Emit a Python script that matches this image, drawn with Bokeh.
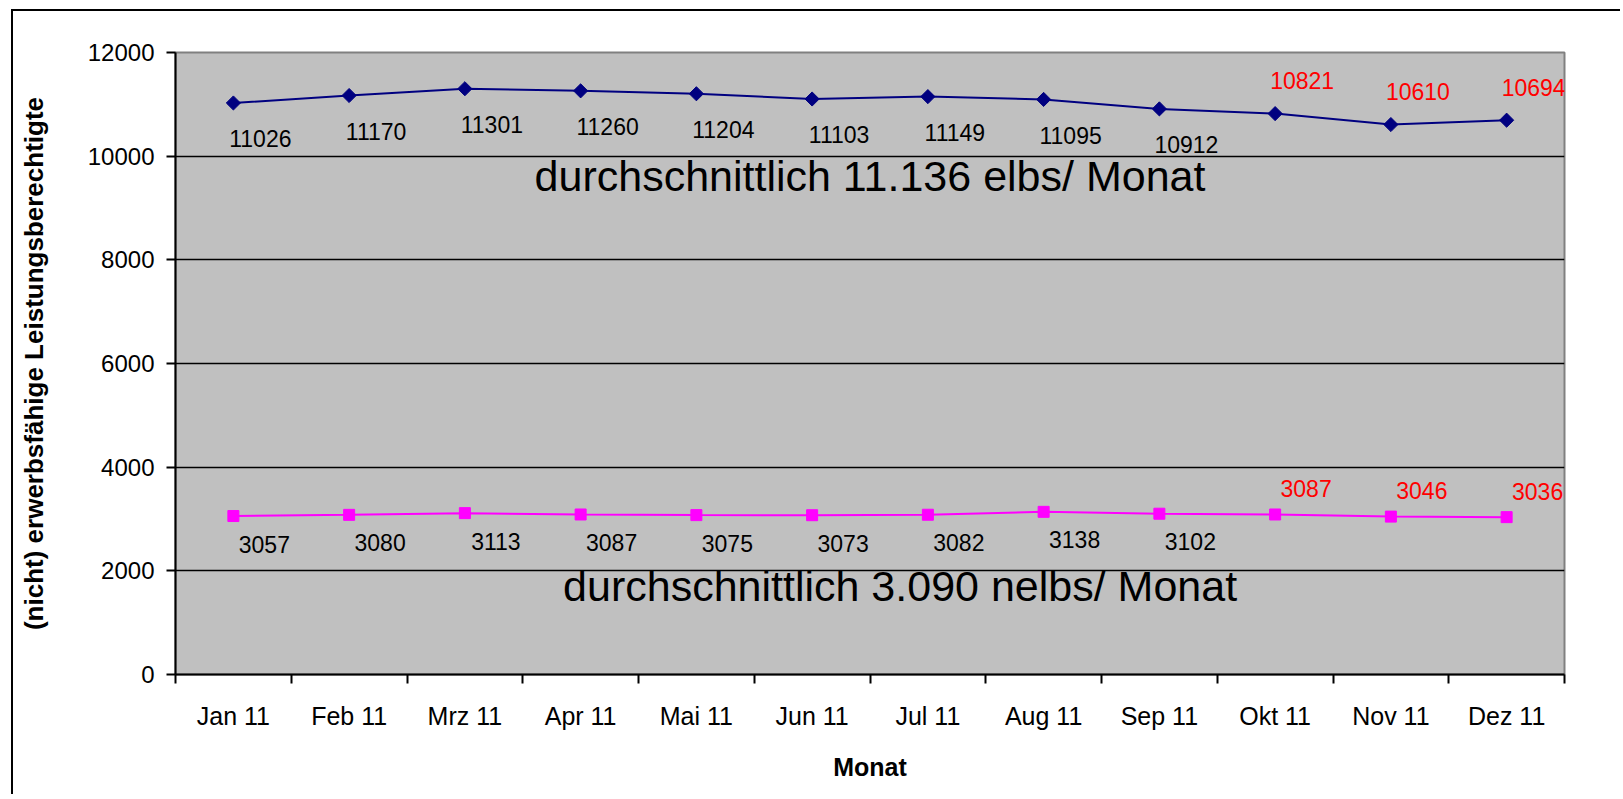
from bokeh.plotting import figure
from bokeh.models import ColumnDataSource, LabelSet, Label, FixedTicker, Range1d
from bokeh.core.properties import value
from bokeh.embed import file_html
from bokeh.resources import INLINE
import math

months = ["Jan 11", "Feb 11", "Mrz 11", "Apr 11", "Mai 11", "Jun 11",
          "Jul 11", "Aug 11", "Sep 11", "Okt 11", "Nov 11", "Dez 11"]
elbs = [11026, 11170, 11301, 11260, 11204, 11103, 11149, 11095, 10912, 10821, 10610, 10694]
nelbs = [3057, 3080, 3113, 3087, 3075, 3073, 3082, 3138, 3102, 3087, 3046, 3036]
highlight = [False] * 9 + [True] * 3
y_ticks = [0, 2000, 4000, 6000, 8000, 10000, 12000]
avg_elbs_text = "durchschnittlich 11.136 elbs/ Monat"
avg_nelbs_text = "durchschnittlich 3.090 nelbs/ Monat"

FONT = "Liberation Sans"
xs = [i + 0.5 for i in range(len(months))]

p = figure(width=1609, height=785, output_backend="svg", toolbar_location=None,
           x_range=Range1d(0, len(months)), y_range=Range1d(0, 12000),
           min_border_left=162, min_border_top=41, min_border_right=58, min_border_bottom=122,
           background_fill_color="#C0C0C0", border_fill_color="white",
           outline_line_color="#808080", outline_line_width=2)
p.margin = (9, 0, 0, 11)
p.styles = {"border-left": "2px solid black", "border-top": "2px solid black"}

# axes
p.xaxis.ticker = FixedTicker(ticks=xs, minor_ticks=list(range(len(months) + 1)))
p.xaxis.major_label_overrides = {x: m for x, m in zip(xs, months)}
p.xaxis.major_tick_line_color = None
p.xaxis.major_tick_out = 0
p.xaxis.major_tick_in = 0
p.xaxis.minor_tick_out = 9
p.xaxis.minor_tick_in = 0
p.xaxis.minor_tick_line_color = "black"
p.xaxis.minor_tick_line_width = 2
p.xaxis.major_label_standoff = 18
p.xaxis.axis_label = "Monat"
p.xaxis.axis_label_standoff = 20
p.xaxis.major_label_text_font_size = "25px"

p.yaxis.ticker = FixedTicker(ticks=y_ticks, minor_ticks=[])
p.yaxis.major_tick_out = 9
p.yaxis.major_tick_in = 0
p.yaxis.major_tick_line_width = 2
p.yaxis.major_label_standoff = 12
p.yaxis.axis_label = "(nicht) erwerbsfähige Leistungsberechtigte"
p.yaxis.axis_label_standoff = 36
p.yaxis.major_label_text_font_size = "24px"

for ax in (p.xaxis[0], p.yaxis[0]):
    ax.axis_line_color = "black"
    ax.axis_line_width = 2
    ax.major_label_text_font = FONT
    ax.major_label_text_color = "black"
    ax.axis_label_text_font = FONT
    ax.axis_label_text_font_style = "bold"
    ax.axis_label_text_color = "black"
p.xaxis.axis_label_text_font_size = "25px"
p.yaxis.axis_label_text_font_size = "26px"

p.xgrid.grid_line_color = None
p.ygrid.ticker = FixedTicker(ticks=y_ticks)
p.ygrid.grid_line_color = "black"
p.ygrid.grid_line_width = 1.5

# series
src = ColumnDataSource(dict(x=xs, elbs=elbs, nelbs=nelbs))
p.line("x", "elbs", source=src, line_color="#000080", line_width=2)
p.scatter("x", "elbs", source=src, marker="square", angle=math.pi / 4, size=10,
          fill_color="#000080", line_color="#000080")
p.line("x", "nelbs", source=src, line_color="#FF00FF", line_width=2)
p.scatter("x", "nelbs", source=src, marker="square", size=11,
          fill_color="#FF00FF", line_color="#FF00FF")

def subset(flag):
    idx = [i for i, h in enumerate(highlight) if h == flag]
    return ColumnDataSource(dict(
        x=[xs[i] for i in idx],
        elbs=[elbs[i] for i in idx],
        nelbs=[nelbs[i] for i in idx],
        elbs_txt=[str(elbs[i]) for i in idx],
        nelbs_txt=[str(nelbs[i]) for i in idx]))

normal = subset(False)
red = subset(True)

common = dict(text_font=value(FONT), text_font_size=value("23px"), text_align="center",
              text_baseline="middle")
p.add_layout(LabelSet(x="x", y="elbs", text="elbs_txt", source=normal,
                      x_offset=27, y_offset=-36, text_color="black", **common))
p.add_layout(LabelSet(x="x", y="elbs", text="elbs_txt", source=red,
                      x_offset=27, y_offset=33, text_color="#FF0000", **common))
p.add_layout(LabelSet(x="x", y="nelbs", text="nelbs_txt", source=normal,
                      x_offset=31, y_offset=-28, text_color="black", **common))
p.add_layout(LabelSet(x="x", y="nelbs", text="nelbs_txt", source=red,
                      x_offset=31, y_offset=26, text_color="#FF0000", **common))

p.add_layout(Label(x=6.0, y=9608, text=avg_elbs_text, text_font=FONT,
                   text_font_size="43px", text_align="center", text_baseline="middle",
                   text_color="black"))
p.add_layout(Label(x=6.26, y=1717, text=avg_nelbs_text, text_font=FONT,
                   text_font_size="43px", text_align="center", text_baseline="middle",
                   text_color="black"))

open("out.html", "w").write(file_html(p, INLINE))
